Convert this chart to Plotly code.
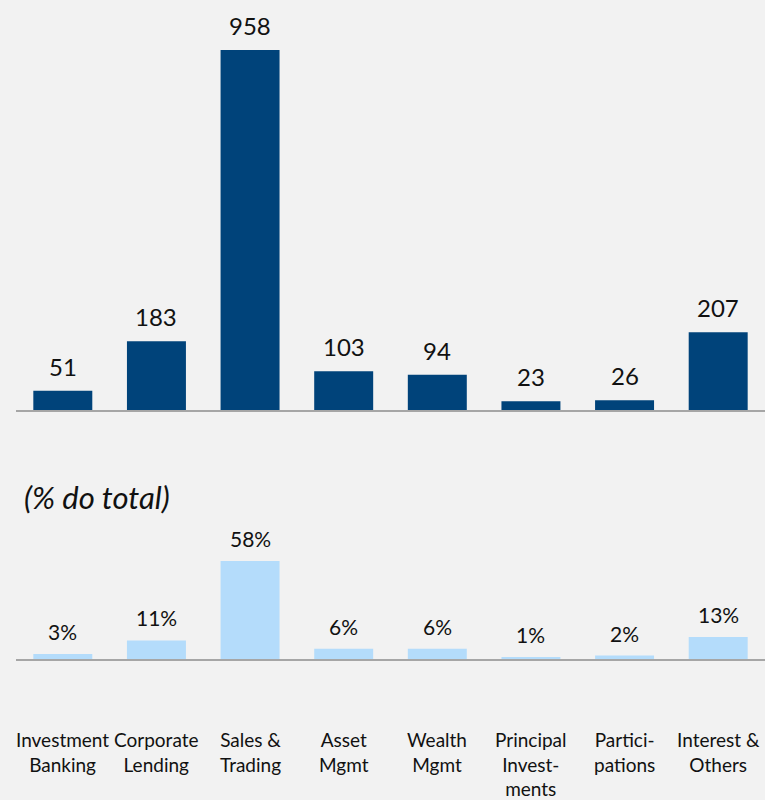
import plotly.graph_objects as go

categories = ["Investment<br>Banking", "Corporate<br>Lending", "Sales &<br>Trading", "Asset<br>Mgmt",
              "Wealth<br>Mgmt", "Principal<br>Invest-<br>ments", "Partici-<br>pations", "Interest &<br>Others"]
values = [51, 183, 958, 103, 94, 23, 26, 207]
shares = [3, 11, 58, 6, 6, 1, 2, 13]
share_labels = [f"{s}%" for s in shares]
subtitle = "(% do total)"

BG = "#f2f2f2"
DARK = "#00437a"
LIGHT = "#b4dcfb"
TXT = "#111111"
FONT = "Lato"

xs = list(range(len(categories)))

fig = go.Figure()
fig.add_trace(go.Bar(x=xs, y=values, marker=dict(color=DARK, line=dict(width=0)),
                     xaxis="x", yaxis="y", hoverinfo="skip"))
fig.add_trace(go.Bar(x=xs, y=shares, marker=dict(color=LIGHT, line=dict(width=0)),
                     xaxis="x2", yaxis="y2", hoverinfo="skip"))

annotations = []
for i, v in enumerate(values):
    annotations.append(dict(x=i, y=v, xref="x", yref="y", text=str(v), showarrow=False,
                            yanchor="bottom", yshift=8, font=dict(size=24, color=TXT, family=FONT)))
for i, s in enumerate(shares):
    annotations.append(dict(x=i, y=s, xref="x2", yref="y2", text=share_labels[i], showarrow=False,
                            yanchor="bottom", yshift=8, font=dict(size=21, color=TXT, family=FONT)))
for i, c in enumerate(categories):
    annotations.append(dict(x=i, y=(800 - 726) / 800, xref="x2", yref="paper", text=c, showarrow=False,
                            yanchor="top", font=dict(size=19, color=TXT, family=FONT)))
annotations.append(dict(x=(22 - 16) / 749, y=(800 - 497) / 800, xref="paper", yref="paper",
                        text="<i>" + subtitle + "</i>", showarrow=False, xanchor="left", yanchor="middle",
                        font=dict(size=31, color=TXT, family=FONT)))

axis_common = dict(range=[-0.5, len(categories) - 0.5], showgrid=False, zeroline=False,
                   showticklabels=False, ticks="", showline=True, linecolor="#a6a6a6", linewidth=2,
                   fixedrange=True)
fig.update_layout(
    width=765, height=800,
    margin=dict(l=16, r=0, t=0, b=0),
    paper_bgcolor=BG, plot_bgcolor=BG,
    showlegend=False, bargap=0.37,
    font=dict(family=FONT, color=TXT),
    xaxis=dict(axis_common, anchor="y"),
    xaxis2=dict(axis_common, anchor="y2"),
    yaxis=dict(domain=[(800 - 410) / 800, 1.0], range=[0, 1091], visible=False, fixedrange=True),
    yaxis2=dict(domain=[(800 - 659) / 800, 0.45], range=[0, 129.6], visible=False, fixedrange=True),
    annotations=annotations,
)
fig.write_html("out.html", config={"displayModeBar": False},
               post_script="document.body.style.margin='0';document.body.style.overflow='hidden';")
